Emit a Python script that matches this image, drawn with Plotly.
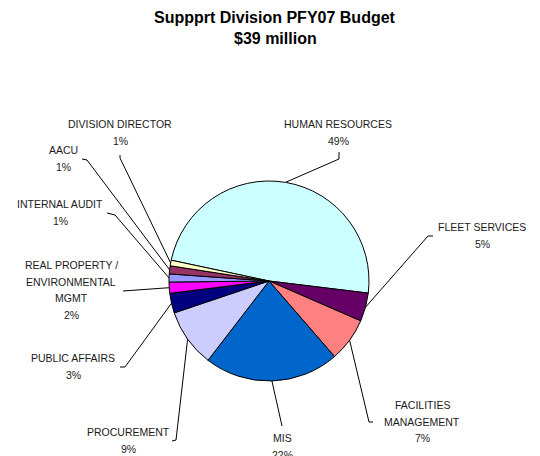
import plotly.graph_objects as go
import math

# ---- data ----
categories = ["HUMAN RESOURCES", "FLEET SERVICES", "FACILITIES\nMANAGEMENT", "MIS",
              "PROCUREMENT", "PUBLIC AFFAIRS", "REAL PROPERTY /\nENVIRONMENTAL\nMGMT",
              "INTERNAL AUDIT", "AACU", "DIVISION DIRECTOR"]
shares = [48.6, 4.6, 7.1, 21.8, 9.4, 3.2, 1.8, 1.3, 1.3, 0.9]
colors = ["#CCFFFF", "#660066", "#FF8080", "#0066CC", "#CCCCFF",
          "#000080", "#FF00FF", "#9999FF", "#993366", "#FFFFCC"]
title_lines = ["Suppprt Division PFY07 Budget", "$39 million"]

# ---- layout (pixels) ----
W, H = 540, 456
CX, CY, R = 269, 281, 100
ROT = -78  # start angle of first slice, degrees clockwise from 12 o'clock
# label anchor (center x, first line y) and leader elbow points
label_pos = [(338, 124), (482, 227), (422, 405), (282, 438), (128, 432),
             (73, 358), (71, 265), (60, 204), (63, 150), (120, 124)]
elbows = [[(339, 159), (339, 152)], [(428, 236), (433, 236)], [(369, 422), (373, 422)],
          [(282, 426)], [(176, 440), (172, 441)], [(125, 367), (120, 367)],
          [(123, 291)], [(115, 215), (107, 213)], [(87, 160), (82, 159)],
          [(120, 158), (120, 155)]]
LINE_H = 16.7
FONT = "Liberation Sans, Arial, sans-serif"

fig = go.Figure()
fig.add_trace(go.Pie(
    labels=[c.replace("\n", " ") for c in categories], values=shares, sort=False,
    direction="clockwise", rotation=ROT, textinfo="none", hoverinfo="label+percent",
    marker=dict(colors=colors, line=dict(color="black", width=1)),
    domain=dict(x=[(CX - R) / W, (CX + R) / W],
                y=[(H - CY - R) / H, (H - CY + R) / H]),
    showlegend=False,
))

# leader lines from slice mid-angles
total = sum(shares)
xs, ys = [], []
cum = 0.0
for v, el in zip(shares, elbows):
    mid = ROT + (cum + v / 2) / total * 360.0  # compass degrees
    cum += v
    a = math.radians(mid)
    xs.append(CX + R * math.sin(a)); ys.append(CY - R * math.cos(a))
    for (ex, ey) in el:
        xs.append(ex); ys.append(ey)
    xs.append(None); ys.append(None)
fig.add_trace(go.Scatter(x=xs, y=ys, mode="lines", line=dict(color="black", width=1),
                         hoverinfo="skip", showlegend=False))

annotations = []
for cat, v, (lx, ly) in zip(categories, shares, label_pos):
    lines = cat.split("\n") + [f"{round(v / total * 100)}%"]
    for i, t in enumerate(lines):
        annotations.append(dict(x=lx, y=ly + i * LINE_H, xref="x", yref="y", text=t,
                                showarrow=False, xanchor="center", yanchor="middle",
                                font=dict(family=FONT, size=10.5, color="#1a1a1a")))
for i, t in enumerate(title_lines):
    annotations.append(dict(x=275, y=17 + i * 21.5, xref="x", yref="y", text=f"<b>{t}</b>",
                            showarrow=False, xanchor="center", yanchor="middle",
                            font=dict(family=FONT, size=16, color="black")))

fig.update_layout(
    width=W, height=H, margin=dict(l=0, r=0, t=0, b=0),
    paper_bgcolor="white", plot_bgcolor="rgba(0,0,0,0)",
    xaxis=dict(range=[0, W], visible=False, fixedrange=True),
    yaxis=dict(range=[H, 0], visible=False, fixedrange=True),
    annotations=annotations,
)
fig.write_html("out.html")
